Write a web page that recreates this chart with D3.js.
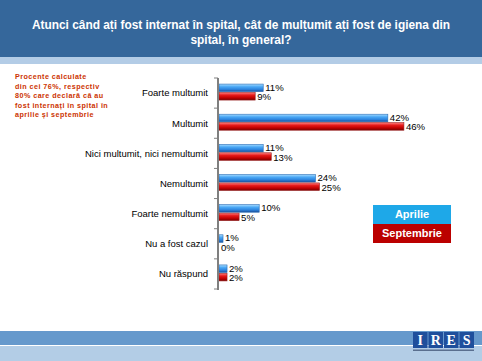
<!DOCTYPE html>
<html>
<head>
<meta charset="utf-8">
<script src="https://cdn.jsdelivr.net/npm/d3@7"></script>
<style>
  body { margin: 0; background: #fff; }
  svg { display: block; font-family: Arial, "Liberation Sans", sans-serif; }
</style>
</head>
<body>
<svg id="chart" width="482" height="361"></svg>
<script>
// Data
var CATEGORIES = [
  "Foarte multumit",
  "Multumit",
  "Nici multumit, nici nemultumit",
  "Nemultumit",
  "Foarte nemultumit",
  "Nu a fost cazul",
  "Nu r\u0103spund"
];
var SERIES = ["Aprilie", "Septembrie"];
var APRILIE = [11, 42, 11, 24, 10, 1, 2];
var SEPTEMBRIE = [9, 46, 13, 25, 5, 0, 2];
var TITLE_LINES = [
  "Atunci c\u00e2nd a\u021bi fost internat \u00een spital, c\u00e2t de mul\u021bumit a\u021bi fost de igiena din",
  "spital, \u00een general?"
];
var NOTE_LINES = [
  "Procente calculate",
  "din cei 76%, respectiv",
  "80% care declar\u0103 c\u0103 au",
  "fost interna\u021bi \u00een spital \u00een",
  "aprilie \u0219i septembrie"
];
var LOGO_LETTERS = ["I", "R", "E", "S"];

var svg = d3.select("#chart");
var W = 482, H = 361;

// Gradients for the 3D bars
var defs = svg.append("defs");
function grad(id, stops) {
  var g = defs.append("linearGradient").attr("id", id)
    .attr("x1", 0).attr("y1", 0).attr("x2", 0).attr("y2", 1);
  stops.forEach(function (s) {
    g.append("stop").attr("offset", s[0]).attr("stop-color", s[1]);
  });
}
grad("g_blue", [[0, "#a8dcff"], [0.35, "#4aa8f5"], [0.7, "#2d83dd"], [1, "#1a4f98"]]);
grad("g_red", [[0, "#ff8080"], [0.35, "#e61a1a"], [0.7, "#c00000"], [1, "#760000"]]);

/*
 * Header and footer bands
 */
svg.append("rect").attr("x", 0).attr("y", 0).attr("width", W).attr("height", 57)
  .attr("fill", "#35679b");
svg.append("rect").attr("x", 0).attr("y", 57).attr("width", W).attr("height", 7)
  .attr("fill", "#b3cce6");

svg.selectAll(".title").data(TITLE_LINES).enter().append("text")
  .attr("class", "title")
  .attr("x", W / 2)
  .attr("y", function (d, i) { return 29 + i * 15; })
  .attr("text-anchor", "middle")
  .attr("fill", "#fff")
  .attr("font-weight", "bold")
  .attr("font-size", 11.9)
  .text(function (d) { return d; });

svg.append("rect").attr("x", 0).attr("y", 331).attr("width", W).attr("height", 14)
  .attr("fill", "#6699cc");
svg.append("rect").attr("x", 0).attr("y", 346).attr("width", W).attr("height", 15)
  .attr("fill", "#b3cde6");

// IRES logo
var logo = svg.append("g").attr("transform", "translate(413,332)");
logo.selectAll("rect").data(LOGO_LETTERS).enter().append("rect")
  .attr("x", function (d, i) { return i * 15.5; })
  .attr("y", 0).attr("width", 14.5).attr("height", 16)
  .attr("fill", "#1f4f9c");
logo.selectAll("text").data(LOGO_LETTERS).enter().append("text")
  .attr("x", function (d, i) { return i * 15.5 + 7.25; })
  .attr("y", 13)
  .attr("text-anchor", "middle")
  .attr("fill", "#fff")
  .attr("font-family", "'Liberation Serif', 'DejaVu Serif', serif")
  .attr("font-weight", "bold")
  .attr("font-size", 14)
  .text(function (d) { return d; });
logo.append("rect").attr("x", 0).attr("y", 17.5).attr("width", 61).attr("height", 1.5)
  .attr("fill", "#5a6f8f");

/*
 * Note text
 */
svg.selectAll(".note").data(NOTE_LINES).enter().append("text")
  .attr("class", "note")
  .attr("x", 15)
  .attr("y", function (d, i) { return 79 + i * 9.5; })
  .attr("fill", "#cc3300")
  .attr("font-weight", "bold")
  .attr("font-size", 7.2)
  .attr("letter-spacing", 0.45)
  .text(function (d) { return d; });

/*
 * Bars
 */
var x = d3.scaleLinear().domain([0, 50]).range([219, 420]);
var y = d3.scaleBand().domain(CATEGORIES).range([78, 289]);
var inner = d3.scaleBand().domain(SERIES).range([-9, 7]).paddingInner(0.1);

var rows = CATEGORIES.map(function (c, i) {
  return { cat: c, vals: [
    { s: SERIES[0], v: APRILIE[i] },
    { s: SERIES[1], v: SEPTEMBRIE[i] }
  ] };
});

var fills = { "Aprilie": "url(#g_blue)", "Septembrie": "url(#g_red)" };
var strokes = { "Aprilie": "#2b6db5", "Septembrie": "#9a2020" };
var nudge = { "Aprilie": -0.6, "Septembrie": 0.6 };

var row = svg.selectAll(".row").data(rows).enter().append("g")
  .attr("class", "row")
  .attr("transform", function (d) {
    return "translate(0," + (y(d.cat) + y.bandwidth() / 2) + ")";
  });

row.selectAll("rect").data(function (d) { return d.vals.filter(function (e) { return e.v > 0; }); })
  .enter().append("rect")
  .attr("x", x(0))
  .attr("y", function (d) { return inner(d.s); })
  .attr("width", function (d) { return x(d.v) - x(0); })
  .attr("height", inner.bandwidth())
  .attr("fill", function (d) { return fills[d.s]; })
  .attr("stroke", function (d) { return strokes[d.s]; })
  .attr("stroke-width", 0.6);

row.selectAll(".val").data(function (d) { return d.vals; })
  .enter().append("text")
  .attr("class", "val")
  .attr("x", function (d) { return x(d.v) + 2; })
  .attr("y", function (d) { return inner(d.s) + inner.bandwidth() / 2 + nudge[d.s]; })
  .attr("dy", "0.36em")
  .attr("font-size", 9.6)
  .attr("fill", "#000")
  .text(function (d) { return d.v + "%"; });

row.append("text")
  .attr("x", 208)
  .attr("dy", "0.35em")
  .attr("text-anchor", "end")
  .attr("font-size", 9.5)
  .attr("fill", "#000")
  .text(function (d) { return d.cat; });

// Axis line with ticks at band edges
var axis = svg.append("g");
axis.append("line")
  .attr("x1", 218).attr("x2", 218).attr("y1", 78).attr("y2", 290)
  .attr("stroke", "#7f7f7f").attr("stroke-width", 2);
var edges = CATEGORIES.map(function (c) { return y(c); }).concat([y.range()[1]]);
axis.selectAll(".tick").data(edges).enter().append("line")
  .attr("x1", 214).attr("x2", 218)
  .attr("y1", function (d) { return d; }).attr("y2", function (d) { return d; })
  .attr("stroke", "#7f7f7f").attr("stroke-width", 1);

/*
 * Legend
 */
var legColors = ["#1ea8e8", "#bb0000"];
var leg = svg.selectAll(".leg").data(SERIES).enter().append("g")
  .attr("class", "leg")
  .attr("transform", function (d, i) { return "translate(373," + (205 + i * 19) + ")"; });
leg.append("rect").attr("width", 78).attr("height", 19)
  .attr("fill", function (d, i) { return legColors[i]; });
leg.append("text")
  .attr("x", 39).attr("y", 9.5).attr("dy", "0.36em")
  .attr("text-anchor", "middle")
  .attr("fill", "#fff")
  .attr("font-weight", "bold")
  .attr("font-size", 11)
  .text(function (d) { return d; });
</script>
</body>
</html>
